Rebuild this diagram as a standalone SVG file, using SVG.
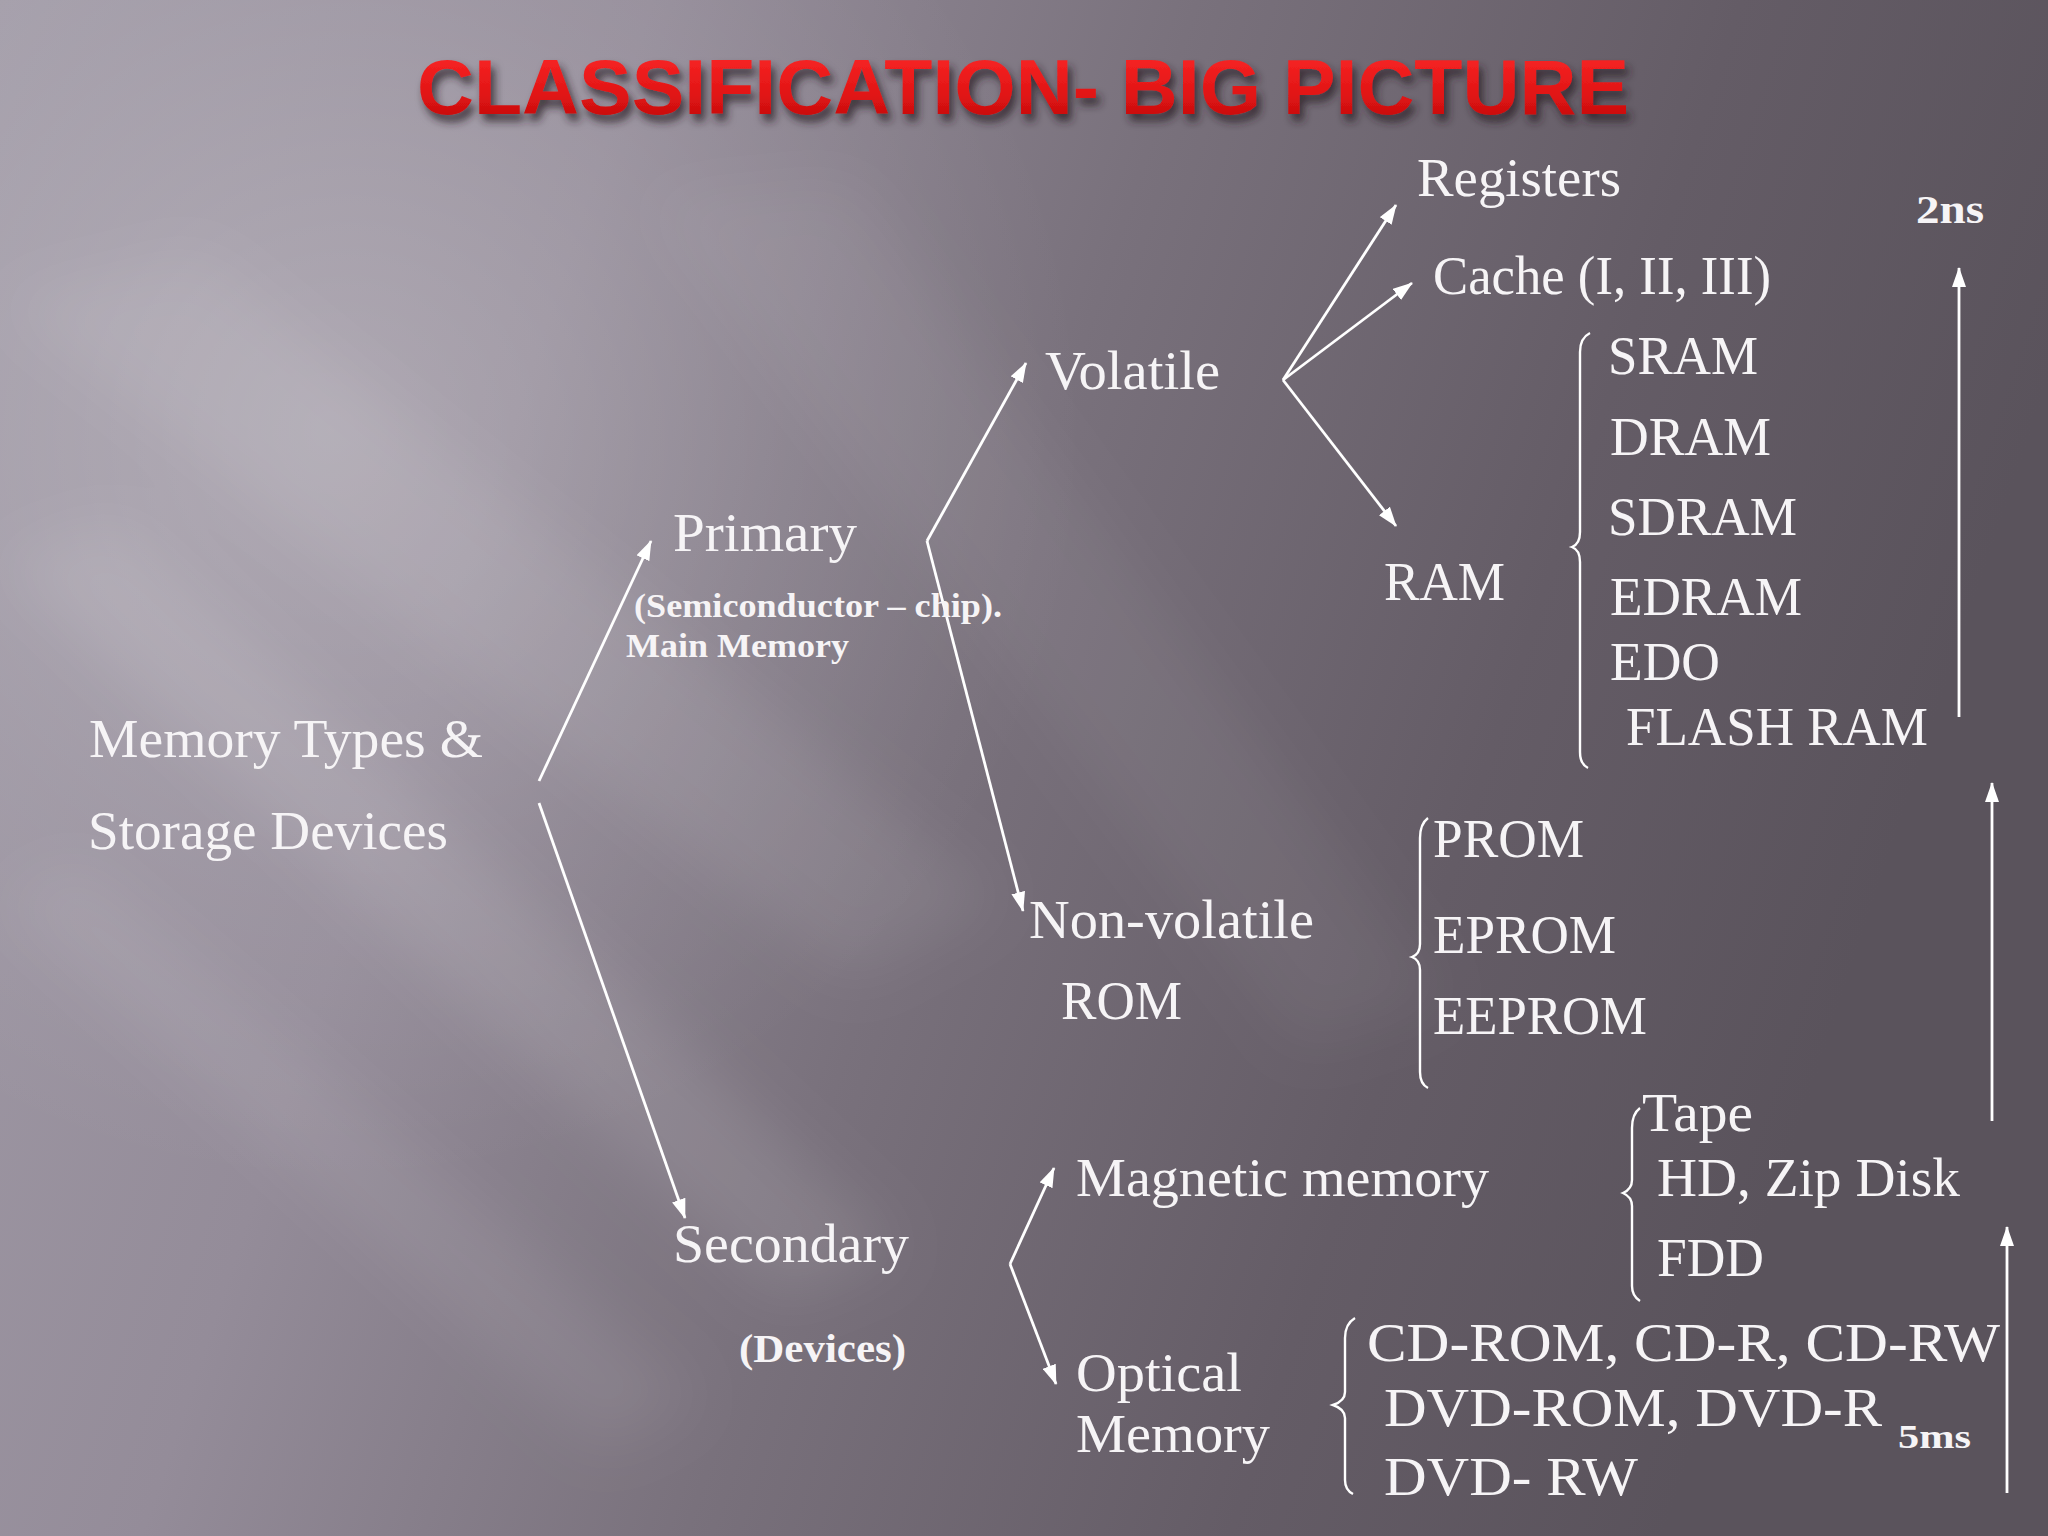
<svg xmlns="http://www.w3.org/2000/svg" width="2048" height="1536" viewBox="0 0 2048 1536">
<defs>
<linearGradient id="bg" x1="0" y1="0" x2="1" y2="0.25">
<stop offset="0" stop-color="#a29ca8"/>
<stop offset="0.3" stop-color="#948c99"/>
<stop offset="0.55" stop-color="#79717c"/>
<stop offset="0.8" stop-color="#645c66"/>
<stop offset="1" stop-color="#5a535c"/>
</linearGradient>
<radialGradient id="glow" cx="330" cy="430" r="760" gradientUnits="userSpaceOnUse">
<stop offset="0" stop-color="#ffffff" stop-opacity="0.22"/>
<stop offset="0.6" stop-color="#ffffff" stop-opacity="0.07"/>
<stop offset="1" stop-color="#ffffff" stop-opacity="0"/>
</radialGradient>
<linearGradient id="red" x1="0" y1="0" x2="0" y2="1">
<stop offset="0" stop-color="#ff2a2a"/>
<stop offset="0.6" stop-color="#e01414"/>
<stop offset="1" stop-color="#b80a0a"/>
</linearGradient>
<filter id="blur" x="-20%" y="-20%" width="140%" height="140%"><feGaussianBlur stdDeviation="30"/></filter>
<filter id="shadow" x="-5%" y="-20%" width="110%" height="160%"><feDropShadow dx="4" dy="7" stdDeviation="4" flood-color="#2a2428" flood-opacity="0.8"/></filter>
<marker id="ah" markerWidth="20" markerHeight="14" refX="19" refY="7" orient="auto" markerUnits="userSpaceOnUse"><path d="M0,0 L20,7 L0,14 z" fill="#ffffff"/></marker>
<style>
.t{font-family:"Liberation Serif","DejaVu Serif",serif;fill:#f6f4f6;font-size:55px}
.b{font-family:"Liberation Serif","DejaVu Serif",serif;fill:#f6f4f6;font-weight:bold}
.ar{stroke:#ffffff;stroke-width:2.8;fill:none;marker-end:url(#ah)}
.br{stroke:#ffffff;stroke-width:2.4;fill:none}
</style>
</defs>
<rect x="0" y="0" width="2048" height="1536" fill="url(#bg)"/>
<rect x="0" y="0" width="2048" height="1536" fill="url(#glow)"/>
<g filter="url(#blur)" fill="#ffffff">
<polygon points="0,560 120,520 900,1250 780,1300" opacity="0.10"/>
<polygon points="0,300 200,250 1000,900 850,980" opacity="0.08"/>
<polygon points="0,900 80,860 700,1400 600,1450" opacity="0.07"/>
<polygon points="650,200 850,180 1450,1000 1300,1050" opacity="0.05"/>
</g>
<g id="title"><text x="1023" y="114" text-anchor="middle" font-family="Liberation Sans, Arial, sans-serif" font-weight="bold" font-size="78" fill="url(#red)" filter="url(#shadow)" textLength="1212" lengthAdjust="spacingAndGlyphs">CLASSIFICATION- BIG PICTURE</text></g>

<g id="connectors">
<line class="ar" x1="539" y1="781" x2="651" y2="541"/>
<line class="ar" x1="539" y1="803" x2="685" y2="1218"/>
<line class="ar" x1="927" y1="541" x2="1026" y2="363"/>
<line class="ar" x1="927" y1="541" x2="1023" y2="911"/>
<line class="ar" x1="1283" y1="380" x2="1396" y2="205"/>
<line class="ar" x1="1283" y1="380" x2="1412" y2="283"/>
<line class="ar" x1="1283" y1="380" x2="1396" y2="526"/>
<line class="ar" x1="1010" y1="1264" x2="1054" y2="1168"/>
<line class="ar" x1="1010" y1="1264" x2="1056" y2="1384"/>
<line class="ar" x1="1959" y1="717" x2="1959" y2="268"/>
<line class="ar" x1="1992" y1="1121" x2="1992" y2="783"/>
<line class="ar" x1="2007" y1="1493" x2="2007" y2="1227"/>
</g>

<g id="braces">
<path class="br" d="M1590,333 Q1580,338 1580,352 L1580,532 Q1580,544 1572,547 Q1580,550 1580,562 L1580,752 Q1580,764 1588,768"/>
<path class="br" d="M1428,818 Q1420,824 1420,838 L1420,944 Q1420,954 1412,957 Q1420,960 1420,970 L1420,1072 Q1420,1084 1428,1088"/>
<path class="br" d="M1640,1108 Q1632,1114 1632,1128 L1632,1180 Q1632,1189 1623,1193 Q1632,1197 1632,1206 L1632,1286 Q1632,1296 1640,1301"/>
<path class="br" d="M1355,1318 Q1345,1324 1345,1338 L1345,1392 Q1345,1401 1333,1405 Q1345,1409 1345,1418 L1345,1480 Q1345,1490 1353,1494"/>
</g>

<g id="n-root"><text class="t" x="89" y="757" textLength="394" lengthAdjust="spacingAndGlyphs">Memory Types &amp;</text><text class="t" x="88" y="849" textLength="360" lengthAdjust="spacingAndGlyphs">Storage Devices</text></g>
<g id="n-primary"><text class="t" x="673" y="551" textLength="184" lengthAdjust="spacingAndGlyphs">Primary</text><text class="b" x="634" y="617" font-size="34" textLength="368" lengthAdjust="spacingAndGlyphs">(Semiconductor – chip).</text><text class="b" x="626" y="657" font-size="34" textLength="223" lengthAdjust="spacingAndGlyphs">Main Memory</text></g>
<g id="n-secondary"><text class="t" x="673" y="1262" textLength="236" lengthAdjust="spacingAndGlyphs">Secondary</text><text class="b" x="739" y="1362" font-size="40" textLength="167" lengthAdjust="spacingAndGlyphs">(Devices)</text></g>
<g id="n-volatile"><text class="t" x="1045" y="389" textLength="175" lengthAdjust="spacingAndGlyphs">Volatile</text></g>
<g id="n-nonvolatile"><text class="t" x="1029" y="938" textLength="285" lengthAdjust="spacingAndGlyphs">Non-volatile</text><text class="t" x="1061" y="1019" textLength="121" lengthAdjust="spacingAndGlyphs">ROM</text></g>
<g id="n-registers"><text class="t" x="1417" y="196" textLength="204" lengthAdjust="spacingAndGlyphs">Registers</text></g>
<g id="n-cache"><text class="t" x="1433" y="294" textLength="338" lengthAdjust="spacingAndGlyphs">Cache (I, II, III)</text></g>
<g id="n-ram"><text class="t" x="1384" y="600" textLength="121" lengthAdjust="spacingAndGlyphs">RAM</text></g>
<g id="n-ramlist">
<text class="t" x="1608" y="374" textLength="150" lengthAdjust="spacingAndGlyphs">SRAM</text>
<text class="t" x="1610" y="455" textLength="161" lengthAdjust="spacingAndGlyphs">DRAM</text>
<text class="t" x="1608" y="535" textLength="189" lengthAdjust="spacingAndGlyphs">SDRAM</text>
<text class="t" x="1610" y="615" textLength="192" lengthAdjust="spacingAndGlyphs">EDRAM</text>
<text class="t" x="1610" y="680" textLength="110" lengthAdjust="spacingAndGlyphs">EDO</text>
<text class="t" x="1626" y="745" textLength="302" lengthAdjust="spacingAndGlyphs">FLASH RAM</text>
</g>
<g id="n-romlist">
<text class="t" x="1433" y="857" font-size="57" textLength="151" lengthAdjust="spacingAndGlyphs">PROM</text>
<text class="t" x="1433" y="953" font-size="57" textLength="183" lengthAdjust="spacingAndGlyphs">EPROM</text>
<text class="t" x="1433" y="1034" font-size="57" textLength="214" lengthAdjust="spacingAndGlyphs">EEPROM</text>
</g>
<g id="n-magnetic"><text class="t" x="1076" y="1196" font-size="57" textLength="413" lengthAdjust="spacingAndGlyphs">Magnetic memory</text></g>
<g id="n-maglist">
<text class="t" x="1642" y="1131" font-size="57" textLength="111" lengthAdjust="spacingAndGlyphs">Tape</text>
<text class="t" x="1657" y="1196" font-size="57" textLength="303" lengthAdjust="spacingAndGlyphs">HD, Zip Disk</text>
<text class="t" x="1657" y="1276" font-size="57" textLength="107" lengthAdjust="spacingAndGlyphs">FDD</text>
</g>
<g id="n-optical"><text class="t" x="1076" y="1391" font-size="57" textLength="166" lengthAdjust="spacingAndGlyphs">Optical</text><text class="t" x="1076" y="1452" font-size="57" textLength="194" lengthAdjust="spacingAndGlyphs">Memory</text></g>
<g id="n-optlist">
<text class="t" x="1367" y="1361" font-size="57" textLength="633" lengthAdjust="spacingAndGlyphs">CD-ROM, CD-R, CD-RW</text>
<text class="t" x="1384" y="1426" font-size="57" textLength="498" lengthAdjust="spacingAndGlyphs">DVD-ROM, DVD-R</text>
<text class="t" x="1384" y="1495" font-size="57" textLength="254" lengthAdjust="spacingAndGlyphs">DVD- RW</text>
</g>
<g id="n-2ns"><text class="b" x="1916" y="223" font-size="41" textLength="68" lengthAdjust="spacingAndGlyphs">2ns</text></g>
<g id="n-5ms"><text class="b" x="1898" y="1448" font-size="34" textLength="73" lengthAdjust="spacingAndGlyphs">5ms</text></g>
</svg>
